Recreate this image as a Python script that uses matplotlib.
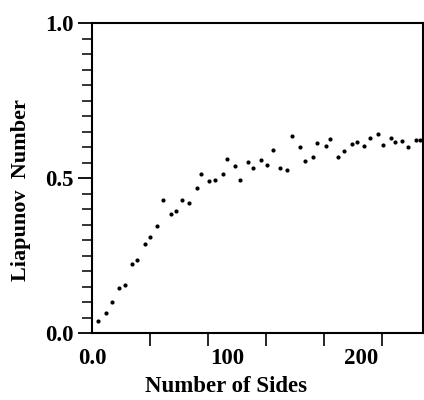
import matplotlib
matplotlib.use("Agg")
import matplotlib.pyplot as plt
from matplotlib.ticker import FixedLocator, MultipleLocator

# values
sides = [4.8, 10.6, 14.5, 19.7, 24.2, 29.9, 33.1, 39.3, 43.0, 48.5,
         52.6, 58.4, 62.6, 67.1, 71.7, 77.7, 81.2, 86.6, 91.1, 97.0,
         100.0, 106.5, 109.7, 115.8, 119.3, 125.5, 129.7, 134.7, 139.2, 145.1,
         148.1, 154.1, 158.2, 163.9, 167.1, 173.4, 176.6, 182.5, 187.0, 192.7,
         196.4, 201.9, 206.1, 212.0, 215.8, 221.7, 224.7, 230.1, 234.3, 240.3,
         243.7]
liapunov = [0.039, 0.065, 0.100, 0.145, 0.156, 0.223, 0.236, 0.287, 0.310, 0.346,
            0.430, 0.385, 0.394, 0.430, 0.419, 0.467, 0.512, 0.489, 0.494, 0.512,
            0.562, 0.540, 0.495, 0.553, 0.532, 0.557, 0.542, 0.589, 0.533, 0.527,
            0.635, 0.600, 0.556, 0.569, 0.613, 0.603, 0.626, 0.567, 0.588, 0.609,
            0.617, 0.604, 0.629, 0.643, 0.606, 0.628, 0.616, 0.620, 0.600, 0.623,
            0.622]

x_ticks = [0, 100, 200]
x_tick_labels = ["0.0", "100", "200"]
y_ticks = [0.0, 0.5, 1.0]
y_tick_labels = ["0.0", "0.5", "1.0"]

plt.rcParams["font.family"] = ["Liberation Serif", "DejaVu Serif"]
plt.rcParams["font.weight"] = "bold"

fig = plt.figure(figsize=(4.24, 4.0), dpi=100)
ax = fig.add_axes([0.217, 0.1675, 0.7806, 0.775])

ax.plot(sides, liapunov, "o", color="black", markersize=3.0, markeredgewidth=0)

ax.set_xlim(0, 245.7)
ax.set_ylim(0, 1.0)

# x: labels at 0/100/200, tick marks on their own spacing (as in the scan)
ax.xaxis.set_major_locator(FixedLocator(x_ticks))
ax.set_xticklabels(x_tick_labels)
ax.xaxis.set_minor_locator(MultipleLocator(43))
ax.tick_params(axis="x", which="major", length=0, pad=11, labelsize=16.5)
ax.tick_params(axis="x", which="minor", direction="out", length=9, width=1.2)

ax.yaxis.set_major_locator(FixedLocator(y_ticks))
ax.set_yticklabels(y_tick_labels)
ax.yaxis.set_minor_locator(MultipleLocator(0.05))
ax.tick_params(axis="y", which="major", direction="out", length=10, width=1.3,
               pad=3, labelsize=16.5)
ax.tick_params(axis="y", which="minor", direction="out", length=7, width=1.1)

for spine in ax.spines.values():
    spine.set_linewidth(1.5)

fig.text(0.534, 0.035, "Number of Sides", ha="center", va="center",
         fontsize=16.5, fontweight="bold")
fig.text(0.05, 0.525, "Liapunov  Number", ha="center", va="center",
         rotation=90, fontsize=16, fontweight="bold")

fig.savefig("out.png", dpi=100, facecolor="white")
